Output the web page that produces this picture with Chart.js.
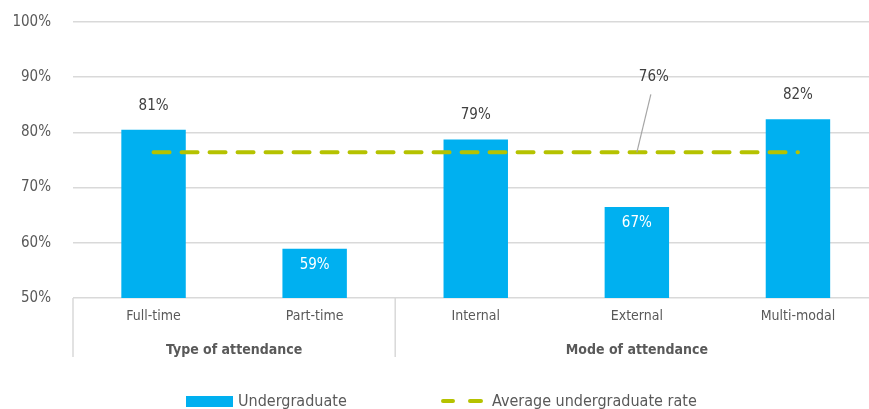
<!DOCTYPE html>
<html lang="en">
<head>
  <meta charset="UTF-8">
  <title>Undergraduate rate by attendance</title>
  <script src="https://cdn.jsdelivr.net/npm/chart.js"></script>
  <style>
    html, body { margin: 0; padding: 0; background: #fff; overflow: hidden; }
    #wrap { width: 880px; height: 409px; }
  </style>
</head>
<body>
  <div id="wrap"><canvas id="rateChart" width="880" height="409"></canvas></div>

  <script>
    const categories = ['Full-time', 'Part-time', 'Internal', 'External', 'Multi-modal'];
    const undergraduate = [80.5, 58.9, 78.7, 66.5, 82.4];
    const averageRate = 76.4;
    const groups = [
      { label: 'Type of attendance', from: 0, to: 1 },
      { label: 'Mode of attendance', from: 2, to: 4 }
    ];
    // labels drawn inside the bar (white) instead of above it
    const insideLabels = [false, true, false, true, false];

    const FONT = "'Liberation Sans Narrow', 'DejaVu Sans Condensed', 'Liberation Sans', sans-serif";
    const BLUE = '#00b0f0';
    const LIME = '#b5c200';
    const GRID = '#d9d9d9';
    const TEXT = '#595959';

    const pct = v => Math.round(v) + '%';

    // draws value labels, group captions, separators and the legend
    const extras = {
      id: 'extras',
      afterDatasetsDraw(chart) {
        const c = chart.ctx;
        const x = chart.scales.x, y = chart.scales.y;
        const bars = chart.getDatasetMeta(0).data;
        c.save();
        c.font = '15px ' + FONT;
        c.textAlign = 'center';
        c.textBaseline = 'middle';
        bars.forEach((bar, i) => {
          const v = undergraduate[i];
          if (insideLabels[i]) {
            c.fillStyle = '#ffffff';
            c.fillText(pct(v), bar.x, bar.y + 16);
          } else {
            c.fillStyle = '#404040';
            c.fillText(pct(v), bar.x, bar.y - 24);
          }
        });

        // callout for the average line
        const ax = x.getPixelForValue(3), ay = y.getPixelForValue(averageRate);
        c.strokeStyle = '#a6a6a6';
        c.lineWidth = 1.2;
        c.beginPath();
        c.moveTo(ax, ay);
        c.lineTo(ax + 14, ay - 58);
        c.stroke();
        c.fillStyle = '#404040';
        c.fillText(pct(averageRate), ax + 17, ay - 75);

        // group separators under the axis
        const step = x.getPixelForValue(1) - x.getPixelForValue(0);
        const base = y.getPixelForValue(50);
        c.strokeStyle = GRID;
        c.lineWidth = 1.5;
        const edges = [x.getPixelForValue(0) - step / 2];
        groups.forEach(g => edges.push(x.getPixelForValue(g.to) + step / 2));
        edges.forEach(ex => {
          c.beginPath();
          c.moveTo(ex, base);
          c.lineTo(ex, base + 59);
          c.stroke();
        });

        c.font = 'bold 14px ' + FONT;
        c.fillStyle = TEXT;
        groups.forEach(g => {
          const mid = (x.getPixelForValue(g.from) + x.getPixelForValue(g.to)) / 2;
          c.fillText(g.label, mid, base + 52);
        });

        // legend
        const ly = 401;
        c.font = '16px ' + FONT;
        c.textAlign = 'left';
        c.fillStyle = BLUE;
        c.fillRect(186, ly - 5, 47, 11);
        c.fillStyle = TEXT;
        c.fillText(chart.data.datasets[0].label, 238, ly + 1);
        c.strokeStyle = LIME;
        c.lineWidth = 4;
        c.lineCap = 'round';
        c.beginPath();
        c.moveTo(443, ly); c.lineTo(453, ly);
        c.moveTo(470, ly); c.lineTo(481, ly);
        c.stroke();
        c.fillText(chart.data.datasets[1].label, 492, ly + 1);
        c.restore();
      }
    };

    const ctx = document.getElementById('rateChart').getContext('2d');
    new Chart(ctx, {
      data: {
        labels: categories,
        datasets: [
          {
            type: 'bar',
            label: 'Undergraduate',
            data: undergraduate,
            backgroundColor: BLUE,
            barPercentage: 0.4,
            categoryPercentage: 1,
            order: 2
          },
          {
            type: 'line',
            label: 'Average undergraduate rate',
            data: categories.map(() => averageRate),
            borderColor: LIME,
            borderWidth: 4,
            borderDash: [16, 12],
            borderCapStyle: 'round',
            pointRadius: 0,
            fill: false,
            order: 1
          }
        ]
      },
      options: {
        responsive: false,
        animation: false,
        layout: { padding: { top: 22, right: 1.5, left: 0, bottom: 0 } },
        plugins: {
          legend: { display: false },
          tooltip: { enabled: false }
        },
        scales: {
          x: {
            grid: { display: false },
            border: { display: false },
            ticks: { color: TEXT, font: { family: FONT, size: 14 }, padding: 2 },
            afterFit: s => { s.height = 111; }
          },
          y: {
            min: 50,
            max: 100,
            ticks: {
              stepSize: 10,
              callback: v => v + '%',
              color: TEXT,
              font: { family: FONT, size: 15 },
              padding: 22
            },
            grid: { color: GRID, lineWidth: 1.5, drawTicks: false },
            border: { display: false },
            afterFit: s => {
              s.width = 73;
              s.paddingTop = 8;
              s.paddingBottom = 0;
            }
          }
        }
      },
      plugins: [extras]
    });
  </script>
</body>
</html>
